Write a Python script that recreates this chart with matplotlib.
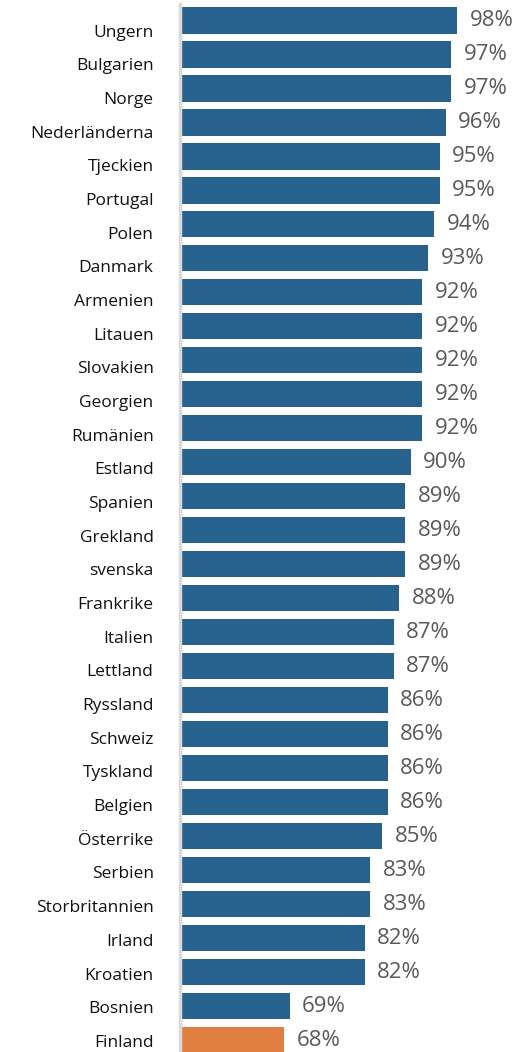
import matplotlib
matplotlib.use("Agg")
import matplotlib.pyplot as plt

# Data
countries = ['Ungern', 'Bulgarien', 'Norge', 'Nederländerna', 'Tjeckien', 'Portugal',
             'Polen', 'Danmark', 'Armenien', 'Litauen', 'Slovakien', 'Georgien',
             'Rumänien', 'Estland', 'Spanien', 'Grekland', 'svenska', 'Frankrike',
             'Italien', 'Lettland', 'Ryssland', 'Schweiz', 'Tyskland', 'Belgien',
             'Österrike', 'Serbien', 'Storbritannien', 'Irland', 'Kroatien',
             'Bosnien', 'Finland']
values = [98, 97, 97, 96, 95, 95, 94, 93, 92, 92, 92, 92, 92, 90, 89, 89, 89, 88,
          87, 87, 86, 86, 86, 86, 85, 83, 83, 82, 82, 69, 68]
highlight = 'Finland'

blue = '#27628E'
orange = '#E07F40'
colors = [orange if c == highlight else blue for c in countries]

plt.rcParams['font.family'] = ['Open Sans', 'DejaVu Sans']

W, H = 524, 1052
fig = plt.figure(figsize=(W / 100, H / 100), dpi=100)
rect = [180 / W, 0, 1 - 180 / W, 1048 / H]
ax = fig.add_axes(rect)

pos = list(range(len(countries)))
ax.barh(pos, [v - 50 for v in values], left=50, height=0.77, color=colors)
ax.set_xlim(50, 109.6)
ax.set_ylim(30.35, -0.485)

# value labels
for y, v in zip(pos, values):
    ax.annotate(f'{v}%', (v, y), xytext=(9, 0), textcoords='offset points',
                ha='left', va='center', fontsize=16, color='#595959')

for s in ['top', 'right', 'bottom']:
    ax.spines[s].set_visible(False)
ax.spines['left'].set_color('#D9D9D9')
ax.spines['left'].set_linewidth(2.5)
ax.set_xticks([])
ax.set_yticks([])

# category labels sit on a slightly different spacing than the bars
ax_lab = fig.add_axes(rect, frameon=False)
ax_lab.set_ylim(30.33, -0.787)
ax_lab.set_xlim(0, 1)
ax_lab.set_xticks([])
ax_lab.set_yticks(pos)
ax_lab.set_yticklabels(countries, fontsize=12.5, color='#111111')
ax_lab.tick_params(axis='y', length=0, pad=19)

fig.savefig('out.png', dpi=100)
